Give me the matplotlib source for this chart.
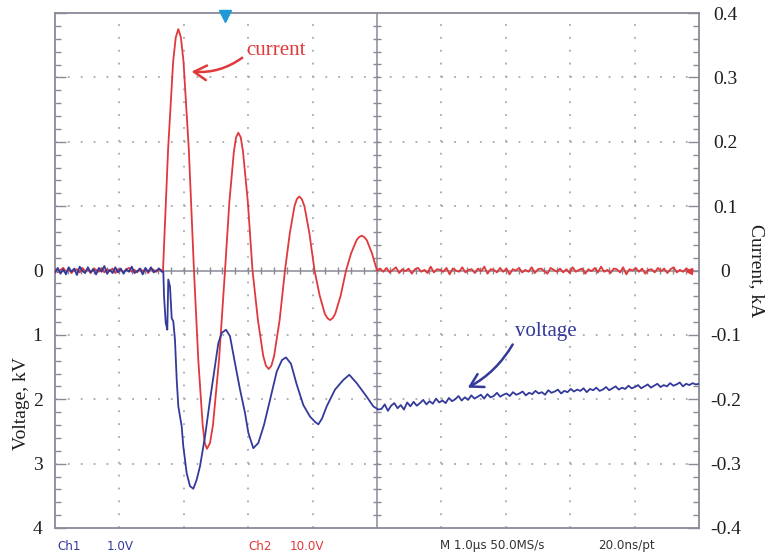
import numpy as np
import matplotlib
matplotlib.use("Agg")
import matplotlib.pyplot as plt
from matplotlib.ticker import MultipleLocator, FuncFormatter

plt.rcParams["lines.scale_dashes"] = False

# ---------------- data (time in µs, 1 µs / division) ----------------
# current (kA): baseline before trigger
i_pre = [0.002, -0.003, 0.001, 0.004, -0.002, 0.003, -0.004, 0.001, 0.002, -0.003,
         0.004, -0.001, 0.002, -0.004, 0.003, 0.001, -0.002, 0.004, -0.003, 0.002,
         -0.001, 0.003, -0.004, 0.002, 0.001, -0.003, 0.002, 0.004, -0.002, 0.001,
         -0.003, 0.003, -0.001, 0.002, -0.004, 0.003, 0.001, -0.002, 0.002, 0.0]
t_cur_pre = np.linspace(0.0, 1.66, len(i_pre))
# current ringing pulse
t_cur_pulse = [1.677, 1.756, 1.835, 1.875, 1.915, 1.955, 1.995, 2.078, 2.158, 2.225,
               2.293, 2.326, 2.360, 2.407, 2.453, 2.547, 2.640, 2.708, 2.778, 2.812,
               2.846, 2.884, 2.919, 2.994, 3.067, 3.151, 3.234, 3.276, 3.318, 3.360,
               3.402, 3.488, 3.571, 3.646, 3.719, 3.756, 3.793, 3.832, 3.873, 3.950,
               4.030, 4.110, 4.189, 4.230, 4.270, 4.312, 4.352, 4.436, 4.519, 4.599,
               4.682, 4.722, 4.762, 4.802, 4.842, 4.921, 5.000]
i_pulse = [0.000, 0.188, 0.325, 0.362, 0.375, 0.362, 0.325, 0.188, 0.000, -0.139,
           -0.240, -0.268, -0.277, -0.268, -0.240, -0.139, 0.000, 0.107, 0.185, 0.207,
           0.214, 0.207, 0.185, 0.107, 0.000, -0.077, -0.133, -0.148, -0.153, -0.148,
           -0.133, -0.077, 0.000, 0.058, 0.100, 0.111, 0.115, 0.111, 0.100, 0.058,
           0.000, -0.039, -0.067, -0.074, -0.077, -0.074, -0.067, -0.039, 0.000, 0.027,
           0.047, 0.052, 0.054, 0.052, 0.047, 0.027, 0.000]
# current baseline after the pulse
i_post = [0.003, -0.002, 0.004, -0.003, 0.001, 0.005, -0.004, 0.002, -0.001, 0.003,
          -0.005, 0.002, 0.004, -0.002, 0.001, -0.004, 0.006, -0.003, 0.002, 0.001,
          -0.002, 0.004, -0.006, 0.003, 0.0, -0.002, 0.005, -0.003, 0.001, 0.002,
          -0.004, 0.003, -0.001, 0.006, -0.005, 0.002, 0.001, -0.003, 0.004, -0.002,
          0.003, -0.006, 0.002, 0.0, 0.004, -0.003, 0.001, -0.002, 0.005, -0.004,
          0.002, 0.003, -0.001, -0.005, 0.004, 0.001, -0.002, 0.003, -0.003, 0.002,
          -0.004, 0.005, -0.002, 0.001, 0.003, -0.005, 0.002, -0.001, 0.004, -0.003,
          0.006, -0.002, 0.001, -0.004, 0.003, 0.002, -0.003, 0.005, -0.006, 0.002,
          0.000, 0.004, -0.002, 0.003, -0.005, 0.001, 0.002, -0.003, 0.004, -0.001,
          0.003, -0.004, 0.002, 0.005, -0.003, 0.001, -0.002, 0.003, 0.0, 0.001]
t_cur_post = np.linspace(5.05, 9.9, len(i_post))

# voltage (kV, drawn positive downward): baseline before trigger
v_pre = [0.03, -0.04, 0.05, -0.02, 0.06, -0.05, 0.02, -0.03, 0.07, -0.06,
         0.01, 0.04, -0.05, 0.03, -0.02, 0.06, -0.04, 0.02, -0.07, 0.05,
         -0.01, 0.04, -0.05, 0.03, -0.03, 0.05, -0.02, 0.02, -0.06, 0.04,
         0.01, -0.03, 0.06, -0.04, 0.02, -0.05, 0.03, 0.00, -0.03, 0.02]
t_volt_pre = np.linspace(0.0, 1.66, len(v_pre))
# voltage pulse
t_volt_pulse = [1.682, 1.693, 1.719, 1.744, 1.759, 1.786, 1.812, 1.837, 1.863, 1.890,
                1.915, 1.967, 1.992, 2.045, 2.096, 2.148, 2.200, 2.252, 2.329, 2.407,
                2.484, 2.536, 2.589, 2.655, 2.717, 2.795, 2.873, 2.950, 3.002, 3.079,
                3.157, 3.245, 3.339, 3.443, 3.525, 3.587, 3.665, 3.753, 3.856, 3.960,
                4.037, 4.089, 4.146, 4.219, 4.348, 4.477, 4.570, 4.685, 4.840, 4.942,
                5.020]
v_pulse = [0.02, 0.40, 0.81, 0.92, 0.14, 0.25, 0.74, 0.79, 1.08, 1.70,
           2.11, 2.42, 2.73, 3.15, 3.35, 3.39, 3.25, 3.04, 2.58, 2.01,
           1.49, 1.13, 0.97, 0.92, 1.02, 1.44, 1.85, 2.21, 2.52, 2.76,
           2.68, 2.40, 2.01, 1.57, 1.39, 1.35, 1.45, 1.77, 2.09, 2.27,
           2.35, 2.39, 2.30, 2.11, 1.85, 1.70, 1.62, 1.75, 1.96, 2.11,
           2.16]
# voltage slow recovery tail
v_tail = [2.15, 2.08, 2.18, 2.10, 2.06, 2.14, 2.09, 2.16, 2.05, 2.11,
          2.04, 2.10, 2.06, 2.01, 2.08, 2.03, 2.07, 1.99, 2.05, 2.02,
          2.06, 1.98, 2.03, 2.00, 1.95, 2.02, 1.97, 2.01, 1.94, 1.99,
          1.96, 1.93, 1.99, 1.92, 1.97, 1.95, 1.90, 1.96, 1.93, 1.91,
          1.95, 1.89, 1.93, 1.91, 1.88, 1.94, 1.90, 1.92, 1.87, 1.91,
          1.89, 1.93, 1.86, 1.90, 1.88, 1.85, 1.91, 1.87, 1.89, 1.84,
          1.88, 1.85, 1.87, 1.83, 1.89, 1.84, 1.86, 1.82, 1.87, 1.85,
          1.81, 1.86, 1.83, 1.80, 1.85, 1.82, 1.84, 1.79, 1.83, 1.81,
          1.78, 1.83, 1.80, 1.77, 1.82, 1.79, 1.76, 1.81, 1.78, 1.80,
          1.75, 1.79, 1.77, 1.74, 1.80, 1.76, 1.78, 1.75, 1.77, 1.76]
t_volt_tail = np.linspace(5.07, 10.0, len(v_tail))

trigger_time = 2.64
ch2_ref_time = 9.84

t_current = np.concatenate([t_cur_pre, t_cur_pulse, t_cur_post])
current = np.concatenate([i_pre, i_pulse, i_post])
t_voltage = np.concatenate([t_volt_pre, t_volt_pulse, t_volt_tail])
voltage = np.concatenate([v_pre, v_pulse, v_tail])

# ---------------- styling ----------------
RED = "#e0393b"
BLUE = "#333a9a"
FRAME = "#8a8a98"
GRID = "#a8a8b0"
SERIF = "Liberation Serif"
TXT = "#1e1e1e"

fig = plt.figure(figsize=(7.73, 5.53), dpi=100)
ax_v = fig.add_axes([55 / 773, 1 - 528 / 553, 644 / 773, 515 / 553])
ax_i = ax_v.twinx()
ax_v.set_zorder(ax_i.get_zorder() + 1)
ax_v.patch.set_visible(False)

ax_v.set_xlim(0, 10)
ax_v.set_ylim(4, -4)
ax_i.set_ylim(-0.4, 0.4)

# grid (dotted, dots at each minor division)
dot = (0, (1.3, 9.27 - 1.3))
for yv in [-0.3, -0.2, -0.1, 0.1, 0.2, 0.3]:
    ax_i.axhline(yv, color=GRID, lw=1.3, linestyle=dot, zorder=0)
for xv in [1, 2, 3, 4, 6, 7, 8, 9]:
    ax_i.axvline(xv, color=GRID, lw=1.3, linestyle=dot, zorder=0)
# centre cross-hair with small ticks
ax_i.axhline(0, color=FRAME, lw=1.1, zorder=1)
ax_i.axvline(5, color=FRAME, lw=1.1, zorder=1)
xm = np.arange(0.2, 10, 0.2)
ax_i.vlines(xm, -0.006, 0.006, color=FRAME, lw=1.0, zorder=1)
ym = np.arange(-0.38, 0.39, 0.02)
ax_i.hlines(ym, 4.94, 5.06, color=FRAME, lw=1.0, zorder=1)

# traces
ax_i.plot(t_current, current, color=RED, lw=1.3, zorder=3)
ax_v.plot(t_voltage, voltage, color=BLUE, lw=1.3, zorder=3)

# markers
ax_i.plot([trigger_time], [0.396], marker="v", color="#1e9ad6", markersize=9,
          clip_on=False, zorder=5)
ax_i.plot([ch2_ref_time], [0.0], marker="<", color=RED, markersize=5, zorder=4)

# spines
for s in ax_i.spines.values():
    s.set_color(FRAME)
    s.set_linewidth(1.3)
for s in ax_v.spines.values():
    s.set_visible(False)

# x ticks
ax_i.xaxis.set_major_locator(MultipleLocator(1))
ax_i.xaxis.set_minor_locator(MultipleLocator(0.2))
ax_i.tick_params(axis="x", which="major", direction="in", length=8, width=1.0,
                 color=FRAME, top=True, bottom=True, labelbottom=False)
ax_i.tick_params(axis="x", which="minor", direction="in", length=4, width=1.0,
                 color=FRAME, top=True, bottom=True)
ax_v.tick_params(axis="x", which="both", bottom=False, top=False, labelbottom=False)

# left (voltage) axis
ax_v.yaxis.set_major_locator(MultipleLocator(1))
ax_v.yaxis.set_minor_locator(MultipleLocator(0.2))
ax_v.yaxis.set_major_formatter(FuncFormatter(
    lambda v, p: f"{int(round(v))}" if v > -0.01 else ""))
ax_v.tick_params(axis="y", which="major", direction="in", length=8, width=1.0,
                 color=FRAME, labelsize=14, pad=9, labelfontfamily=SERIF,
                 labelcolor=TXT)
ax_v.tick_params(axis="y", which="minor", direction="in", length=4, width=1.0,
                 color=FRAME)
ax_v.set_ylabel("Voltage, kV", family=SERIF, fontsize=14, color=TXT)
ax_v.yaxis.set_label_coords((30 - 55) / 644, 1 - (404 - 13) / 515)

# right (current) axis
ax_i.yaxis.set_major_locator(MultipleLocator(0.1))
ax_i.yaxis.set_minor_locator(MultipleLocator(0.02))
ax_i.yaxis.set_major_formatter(FuncFormatter(
    lambda v, p: "0" if abs(v) < 1e-9 else f"{v:.1f}".replace("\u2212", "-")))
ax_i.tick_params(axis="y", which="major", direction="in", length=8, width=1.0,
                 color=FRAME, labelsize=14, pad=19, labelfontfamily=SERIF,
                 labelcolor=TXT)
ax_i.tick_params(axis="y", which="minor", direction="in", length=4, width=1.0,
                 color=FRAME)
for tk in ax_i.yaxis.get_major_ticks():
    tk.label2.set_horizontalalignment("center")
ax_i.set_ylabel("Current, kA", family=SERIF, fontsize=14, color=TXT,
                rotation=-90)
ax_i.yaxis.set_label_coords(1 + (765 - 699) / 644, 0.5)

# annotations
ax_i.annotate("current", xy=(2.12, 0.309), xytext=(3.43, 0.341),
              color=RED, fontsize=15, family=SERIF, ha="center", va="center",
              arrowprops=dict(arrowstyle="->,head_length=0.6,head_width=0.35",
                              color=RED, lw=1.8, shrinkA=1, shrinkB=0,
                              relpos=(0.0, 0.3),
                              connectionstyle="arc3,rad=-0.2"))
ax_v.annotate("voltage", xy=(6.41, 1.82), xytext=(7.62, 0.94),
              color=BLUE, fontsize=15, family=SERIF, ha="center", va="center",
              arrowprops=dict(arrowstyle="->,head_length=0.6,head_width=0.35",
                              color=BLUE, lw=1.8, shrinkA=1, shrinkB=0,
                              relpos=(0.0, 0.0),
                              connectionstyle="arc3,rad=-0.15"))

# oscilloscope status line
ybot = 1 - 546 / 553
status = [("Ch1", 57, BLUE), ("1.0V", 107, BLUE), ("Ch2", 248, RED),
          ("10.0V", 290, RED), ("M 1.0\u00b5s 50.0MS/s", 440, "#333333"),
          ("20.0ns/pt", 598, "#333333")]
for txt, xp, col in status:
    fig.text(xp / 773, ybot, txt, color=col, fontsize=8.6, family="DejaVu Sans",
             ha="left", va="center")

fig.savefig("out.png", dpi=100)
